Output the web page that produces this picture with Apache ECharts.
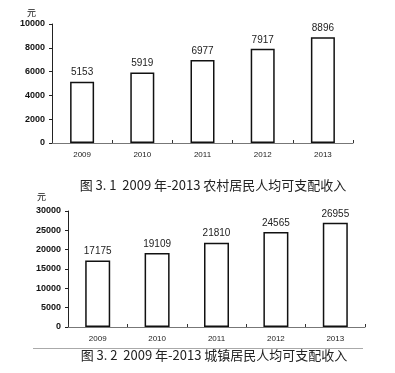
<!DOCTYPE html>
<html><head><meta charset="utf-8">
<script src="https://cdn.jsdelivr.net/npm/echarts@6/dist/echarts.min.js"></script>
<style>html,body{margin:0;padding:0;background:#fff}#c{width:395px;height:373px}</style>
</head><body><div id="c"></div>
<script>
const years = ['2009','2010','2011','2012','2013'];
const ruralIncome = [5153, 5919, 6977, 7917, 8896];
const urbanIncome = [17175, 19109, 21810, 24565, 26955];
const ruralTicks = {min:0, max:10000, interval:2000};
const urbanTicks = {min:0, max:30000, interval:5000};
const unitLabel = '元';
const caption1 = '图 3. 1  2009 年-2013 农村居民人均可支配收入';
const caption2 = '图 3. 2  2009 年-2013 城镇居民人均可支配收入';

const latin = 'Liberation Sans, Arial, sans-serif';
const cjk = 'Noto Sans CJK SC, sans-serif';
function xAx(gi, fs){
  return {type:'category', gridIndex:gi, data:years,
    axisLine:{lineStyle:{color:'#777', width:1}},
    axisTick:{show:true, inside:true, length:3, lineStyle:{color:'#333'}},
    axisLabel:{color:'#222', fontSize:fs, fontFamily:latin, margin:8}};
}
function yAx(gi, t){
  return {type:'value', gridIndex:gi, min:t.min, max:t.max, interval:t.interval,
    splitLine:{show:false},
    axisLine:{show:true, lineStyle:{color:'#222', width:1}},
    axisTick:{show:true, length:3, lineStyle:{color:'#222'}},
    axisLabel:{color:'#111', fontSize:9, fontWeight:'bold', fontFamily:latin, margin:7,
      formatter:function(v){return String(v);}}};
}
function ser(i, data, bw){
  return {type:'bar', xAxisIndex:i, yAxisIndex:i, data:data, barWidth:bw,
    itemStyle:{color:'#fff', borderColor:'#111', borderWidth:1.5},
    label:{show:true, position:'top', distance:4, color:'#222', fontSize:10, fontFamily:latin},
    silent:true};
}
const chart = echarts.init(document.getElementById('c'), null, {renderer:'canvas'});
chart.setOption({
  animation:false,
  backgroundColor:'#fff',
  grid:[
    {left:52, top:24, width:301, height:119},
    {left:68, top:211, width:297, height:116}
  ],
  xAxis:[xAx(0,8), xAx(1,8)],
  yAxis:[yAx(0,ruralTicks), yAx(1,urbanTicks)],
  series:[ser(0, ruralIncome, 24), ser(1, urbanIncome, 25)],
  graphic:[
    {type:'text', left:27, top:8, style:{text:unitLabel, fontSize:9, fontFamily:cjk, fill:'#111'}},
    {type:'text', left:37, top:192, style:{text:unitLabel, fontSize:9, fontFamily:cjk, fill:'#111'}},
    {type:'text', x:213, y:185, style:{text:caption1, fontSize:13, fontFamily:cjk, fill:'#222', align:'center', verticalAlign:'middle'}},
    {type:'text', x:214, y:355, style:{text:caption2, fontSize:13, fontFamily:cjk, fill:'#222', align:'center', verticalAlign:'middle'}},
    {type:'line', shape:{x1:33, y1:348.5, x2:363, y2:348.5}, style:{stroke:'#aaa', lineWidth:1}}
  ]
});
</script></body></html>
